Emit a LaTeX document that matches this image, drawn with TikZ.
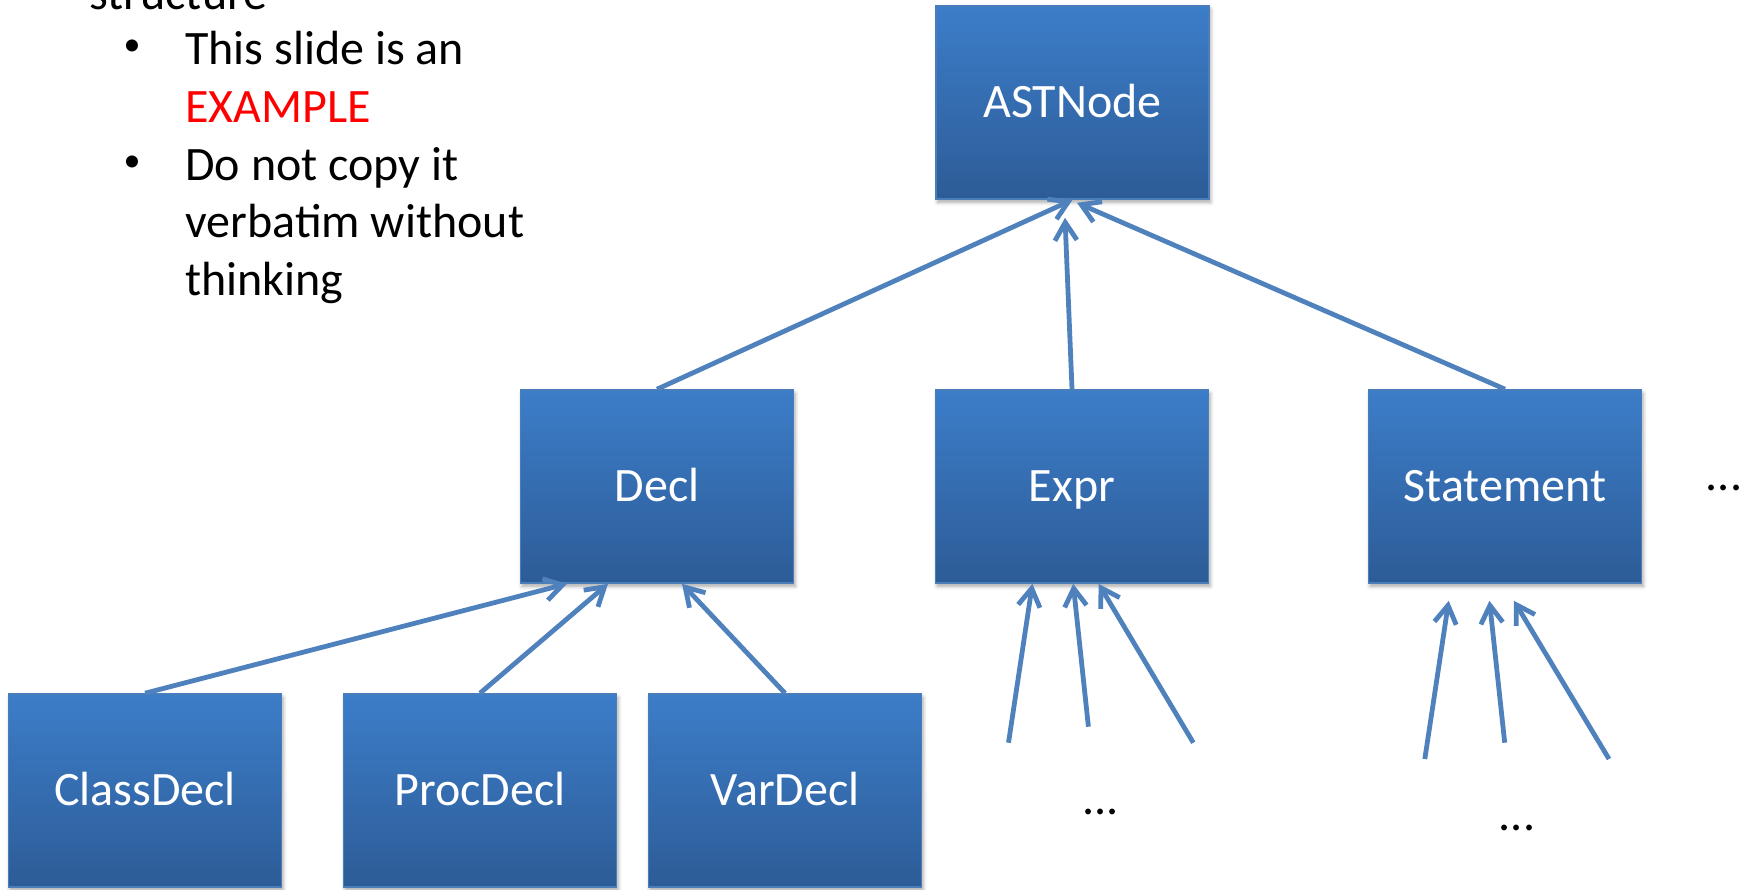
\documentclass[tikz,border=0pt]{standalone}
\usepackage{fontspec}
\setmainfont{Carlito}
\usetikzlibrary{arrows.meta,shadows.blur}
\definecolor{boxtop}{HTML}{3C7DC9}
\definecolor{boxbot}{HTML}{2D5C97}
\definecolor{boxedge}{HTML}{4A7EBB}
\definecolor{linkblue}{HTML}{4F81BD}
\definecolor{alertred}{HTML}{FF0000}
\begin{document}
\begin{tikzpicture}[x=0.5pt,y=-0.5pt,
  classbox/.style={rectangle, draw=boxedge, line width=0.8pt,
    top color=boxtop, bottom color=boxbot,
    minimum width=136.5pt, minimum height=96.5pt, inner sep=0pt,
    text=white, font=\fontsize{24}{28.8}\selectfont,
    text height=15pt, text depth=0pt,
    blur shadow={shadow xshift=0.8pt, shadow yshift=-1.6pt,
      shadow blur steps=5, shadow opacity=35}},
  link/.style={draw=linkblue, line width=2.4pt,
    -{Straight Barb[length=9pt,width=11pt]}},
  slidetext/.style={anchor=base west, inner sep=0pt,
    font=\fontsize{24}{28.8}\selectfont},
  bulletmark/.style={anchor=center, inner sep=0pt,
    font=\fontsize{17}{20}\selectfont},
  moredots/.style={anchor=base, inner sep=0pt,
    font=\fontsize{24}{28.8}\selectfont}]

\useasboundingbox (0,0) rectangle (1748,889);
\clip (0,0) rectangle (1748,889);

% bullet text on the left
\node[slidetext] (heading) at (89,9) {structure};
\node[bulletmark] (bulletA) at (132,48) {•};
\node[bulletmark] (bulletB) at (132,164) {•};
\node[slidetext] (lineA) at (185,64) {This slide is an};
\node[slidetext, text=alertred] (lineB) at (185,122) {EXAMPLE};
\node[slidetext] (lineC) at (185,180) {Do not copy it};
\node[slidetext] (lineD) at (185,237) {verbatim without};
\node[slidetext] (lineE) at (185,295) {thinking};

% class hierarchy
\node[classbox] (ast) at (1072.5,102.5) {ASTNode};
\node[classbox] (decl) at (657,486.5) {Decl};
\node[classbox] (expr) at (1072,486.5) {Expr};
\node[classbox] (stmt) at (1505,486.5) {Statement};
\node[classbox] (classdecl) at (145,790.5) {ClassDecl};
\node[classbox] (procdecl) at (480,790.5) {ProcDecl};
\node[classbox] (vardecl) at (785,790.5) {VarDecl};

\node[moredots] (moreright) at (1724,490) {...};
\node[moredots] (moreexpr) at (1100.6,814) {...};
\node[moredots] (morestmt) at (1517,830) {...};

% free ends of the open-ended subclasses
\coordinate (exprA) at (1008.5,742.7);
\coordinate (exprB) at (1088.4,726.7);
\coordinate (exprC) at (1193.3,742.7);
\coordinate (stmtA) at (1424.8,759);
\coordinate (stmtB) at (1504.7,742.7);
\coordinate (stmtC) at (1609,759);

% inheritance links
\draw[link] (decl.north) -- (ast.south);
\draw[link] (expr.north) -- ([xshift=-3.75pt,yshift=-9pt]ast.south);
\draw[link] (stmt.north) -- ([xshift=2.25pt,yshift=-1.5pt]ast.south);

\draw[link] (classdecl.north) -- ([xshift=-45pt]decl.south);
\draw[link] (procdecl.north) -- ([xshift=-24.5pt]decl.south);
\draw[link] (vardecl.north) -- ([xshift=12.5pt]decl.south);

\draw[link] (exprA) -- ([xshift=-19.8pt]expr.south);
\draw[link] (exprB) -- ([xshift=0.6pt]expr.south);
\draw[link] (exprC) -- ([xshift=13.3pt]expr.south);

\draw[link] (stmtA) -- ([xshift=-28.15pt,yshift=-8.5pt]stmt.south);
\draw[link] (stmtB) -- ([xshift=-7.8pt,yshift=-8.5pt]stmt.south);
\draw[link] (stmtC) -- ([xshift=4.45pt,yshift=-8.5pt]stmt.south);
\end{tikzpicture}
\end{document}
